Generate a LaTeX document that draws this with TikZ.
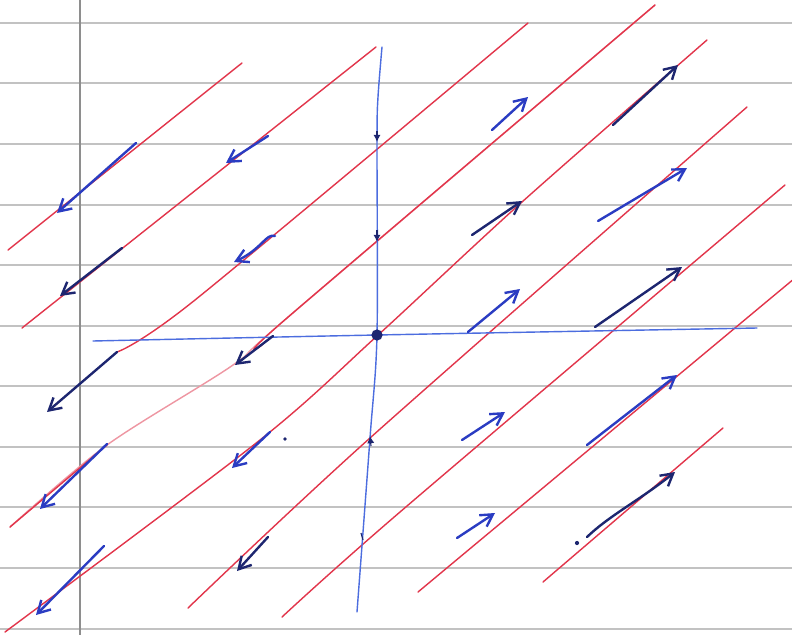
\documentclass[tikz,border=0pt]{standalone}
\usetikzlibrary{arrows.meta}
\definecolor{paper}{HTML}{FFFFFF}
\definecolor{ruleGray}{HTML}{C2C2C2}
\definecolor{marginGray}{HTML}{8E8E8E}
\definecolor{solRed}{HTML}{E2354B}
\definecolor{solPink}{HTML}{EE96A2}
\definecolor{axisBlue}{HTML}{4C6DDF}
\definecolor{flowBlue}{HTML}{2A3CC2}
\definecolor{flowDark}{HTML}{1D2670}

\begin{document}
\begin{tikzpicture}[
    x=0.25mm, y=-0.25mm,
    >={Straight Barb[length=3mm,width=3.4mm]},
    ruled/.style={line width=1.4pt, draw=ruleGray},
    margin/.style={line width=1.4pt, draw=marginGray},
    sol/.style={line width=1pt, draw=solRed, line cap=round},
    faint/.style={line width=1pt, draw=solPink, line cap=round},
    axis/.style={line width=1pt, draw=axisBlue, line cap=round},
    flow/.style={->, line width=1.7pt, draw=flowBlue, line cap=round},
    inked/.style={flow, draw=flowDark},
    axmark/.style={-{Latex[length=1.8mm,width=1.8mm]}, line width=0.8pt, draw=flowDark},
    dot/.style={circle, fill=flowDark, inner sep=0pt, minimum size=#1},
]

\useasboundingbox[fill=paper] (0,0) rectangle (792,635);

% --- ruled paper ---
\foreach \yy in {23,83,144,205,265,326,386,447,507,568,629}
    \draw[ruled] (0,\yy) -- (792,\yy);
\draw[margin] (80,0) -- (80,635);

% --- solution lines ---
\draw[sol] (8,250) -- (242,63);
\draw[sol] (22,328) -- (376,47);
\draw[sol] plot[smooth] coordinates {(117,352) (195,300) (528,23)};
\draw[faint] plot[smooth] coordinates {(10,527) (107,445) (233,365) (287,318) (655,5)};
\draw[sol] plot[smooth] coordinates {(262,345) (287,318) (655,5)};
\draw[sol] (107,445) -- (10,527);
\draw[sol] plot[smooth] coordinates {(5,632) (260,440) (377,336) (522,202) (707,40)};
\draw[sol] plot[smooth] coordinates {(188,608) (370,438) (747,107)};
\draw[sol] plot[smooth] coordinates {(282,617) (400,512) (785,185)};
\draw[sol] (418,592) -- (795,278);
\draw[sol] (543,582) -- (723,428);

% --- axes ---
\draw[axis] plot[smooth] coordinates {(93,341) (377,335) (757,328)};
\draw[axis] plot[smooth] coordinates {(382,47) (378,97) (377,140) (377,335) (370,438) (357,612)};
\node[dot=8pt] (origin) at (377,335) {};
\draw[axmark] (377,131) -- (377,142);
\draw[axmark] (377,230) -- (377,242);
\draw[axmark] (371,446) -- (370,436);
\draw[axmark, -] (361,533) -- (363,540);

% --- flow arrows, left half ---
\draw[flow] (136,143) -- (57,213);
\draw[flow] (268,136) -- (226,163);
\draw[inked] (122,248) -- (60,296);
\draw[flow] (275,236) .. controls (266,233) and (262,249) .. (234,262);
\draw[inked] (117,352) -- (47,412);
\draw[inked] (273,336) -- (235,365);
\draw[flow] (107,444) -- (40,509);
\draw[flow] (270,432) -- (232,468);
\draw[flow] (104,546) -- (36,615);
\draw[inked] (268,537) -- (237,571);
\node[dot=2.5pt] (speck1) at (285,439) {};

% --- flow arrows, right half ---
\draw[flow] (492,130) -- (528,97);
\draw[inked] (613,125) -- (678,65);
\draw[inked] (472,235) -- (522,201);
\draw[flow] (598,221) -- (687,168);
\draw[flow] (468,332) -- (520,289);
\draw[inked] (595,327) -- (682,267);
\draw[flow] (462,440) -- (505,412);
\draw[flow] (587,445) -- (677,375);
\draw[flow] (457,538) -- (495,513);
\draw[inked] (587,537) .. controls (610,515) and (640,500) .. (675,472);
\node[dot=3pt] (speck2) at (577,543) {};

\end{tikzpicture}
\end{document}
